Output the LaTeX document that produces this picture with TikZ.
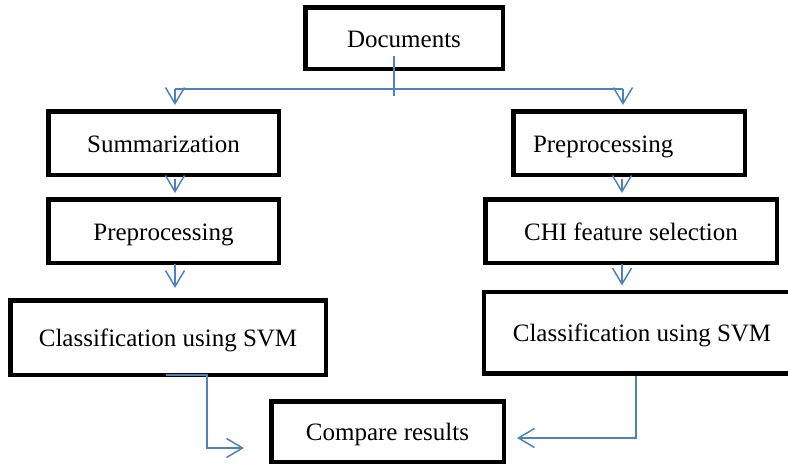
\documentclass[tikz,border=0pt]{standalone}
\usepackage{fontspec}
\setmainfont{Liberation Serif}
\usetikzlibrary{arrows.meta}
\definecolor{lineblue}{HTML}{4F81BD}
\tikzset{
  box/.style={draw=black, line width=4.5pt, fill=white, inner sep=0pt,
    text height=18.5pt, text depth=0pt,
    font=\fontsize{25}{30}\selectfont},
  conn/.style={draw=lineblue, line width=1.5pt},
  arr/.style={conn, -{Straight Barb[length=16pt,width=19pt,line width=1.5pt]}},
}
\begin{document}
\begin{tikzpicture}[x=1pt,y=-1pt]
\useasboundingbox (0,0) rectangle (788,466);
% column x positions of the connectors
\coordinate (cl) at (175,0);
\coordinate (cr) at (622,0);
\coordinate (cd) at (394,0);
% boxes
\node[box, minimum width=197.5pt, minimum height=61.5pt] (doc) at (404,38) {Documents};
\node[box, minimum width=230.5pt, minimum height=63.5pt] (summ) at (163.5,143) {Summarization};
\node[box, minimum width=230.5pt, minimum height=63.5pt] (preL) at (163.5,231) {Preprocessing};
\node[box, minimum width=315.5pt, minimum height=74.5pt] (classL) at (168,337.5) {Classification using SVM};
\node[box, minimum height=63.5pt, text width=192pt, align=left, inner xsep=19.75pt] (preR) at (629,143) {Preprocessing};
\node[box, minimum width=291.5pt, minimum height=63.5pt] (chi) at (631,231) {CHI feature selection};
\node[box, minimum width=316.5pt, minimum height=81.5pt] (classR) at (642,332.5) {Classification using SVM};
\node[box, minimum width=232.5pt, minimum height=60.5pt] (cmp) at (387.5,431.5) {Compare results};
% connectors
\coordinate (split) at (394,89);
\coordinate (lt) at (175,89);
\coordinate (rt) at (623,89);
\draw[conn] ([yshift=-18pt]doc.center -| cd) -- ([yshift=-7pt]split);
\draw[conn] (lt) -- (rt);
\draw[arr] (lt) -- ([yshift=4pt]summ.north -| lt);
\draw[arr] (rt) -- ([yshift=4pt]preR.north -| rt);
\draw[arr] ([yshift=-2.25pt]summ.south -| cl) -- ([yshift=4pt]preL.north -| cl);
\draw[arr] ([yshift=1pt]preL.south -| cl) -- ([yshift=10pt]classL.north -| cl);
\draw[arr] ([yshift=-2.25pt]preR.south -| cr) -- ([yshift=4pt]chi.north -| cr);
\draw[arr] ([yshift=1pt]chi.south -| cr) -- ([yshift=4pt]classR.north -| cr);
\coordinate (lbend) at (207,448);
\coordinate (rbend) at (636,438);
\draw[arr] ([xshift=-2pt,yshift=2pt]classL.south) -| (lbend) -- ([xshift=-25pt]cmp.west |- lbend);
\draw[arr] (classR.south -| rbend) |- ([xshift=11pt]cmp.east |- rbend);
\end{tikzpicture}
\end{document}
